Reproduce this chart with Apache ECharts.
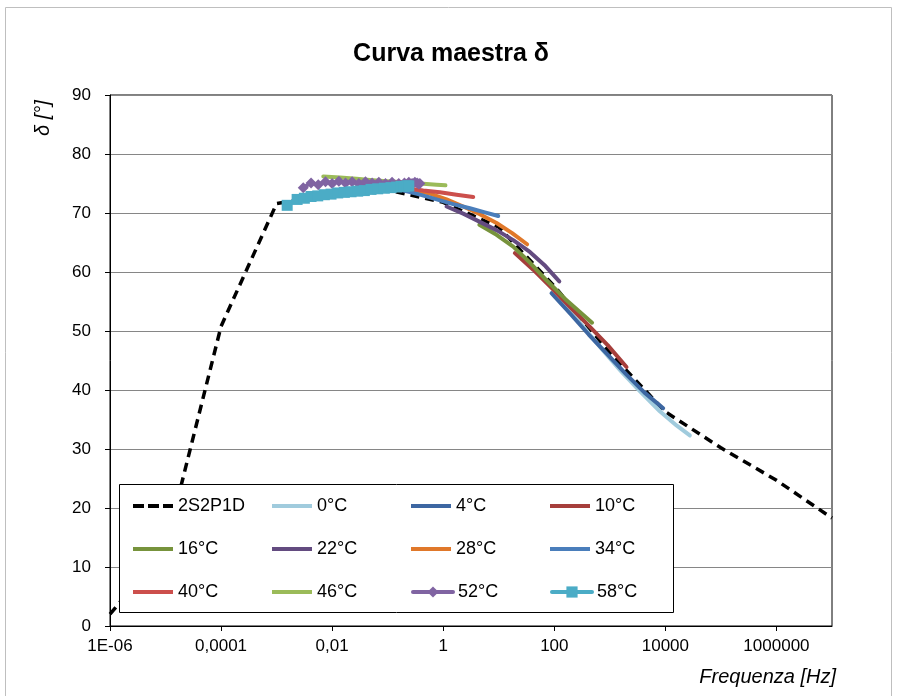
<!DOCTYPE html>
<html>
<head>
<meta charset="utf-8">
<script src="https://cdn.jsdelivr.net/npm/echarts@6/dist/echarts.min.js"></script>
<style>
  html, body { margin: 0; padding: 0; background: #fff; }
  #chart { width: 897px; height: 696px; }
</style>
</head>
<body>
<div id="chart"></div>
<script>
// Master curve (2S2P1D model), one point per decade
const masterFreq = [1e-6, 1e-5, 1e-4, 1e-3, 1e-2, 1e-1, 1, 10, 100, 1000, 1e4, 1e5, 1e6, 1e7];
const masterDelta = [2.0, 13.3, 50.8, 71.6, 73.2, 73.9, 71.8, 67.6, 57.6, 46.3, 36.3, 30.2, 24.7, 18.3];

// Shifted test data, one temperature per series (reduced frequency in Hz, phase angle in degrees)
const f0 = [126, 288, 708, 1585, 3467, 7943, 15850, 27540];
const d0 = [55.2, 51.4, 47.0, 43.2, 39.8, 36.4, 34.0, 32.3];

const f4 = [89.1, 199.5, 416.9, 871, 1995, 4169, 9120];
const d4 = [56.4, 52.8, 49.4, 46.2, 42.6, 39.6, 36.9];

const f10 = [19.5, 41.7, 89.1, 190.5, 416.9, 912, 1995];
const d10 = [63.2, 60.4, 57.3, 54.1, 50.9, 47.6, 43.9];

const f16 = [4.47, 9.12, 18.2, 36.3, 72.4, 158.5, 281.8, 478.6];
const d16 = [68.0, 66.3, 64.3, 61.6, 58.6, 55.4, 53.3, 51.4];

const f22 = [1.148, 2.29, 4.57, 9.12, 18.2, 36.3, 69.2, 123];
const d22 = [71.1, 69.9, 68.5, 67.1, 65.4, 63.4, 61.0, 58.4];

const f28 = [0.282, 0.575, 1.148, 2.29, 4.57, 9.12, 17.4, 32.4];
const d28 = [73.9, 73.3, 72.3, 71.1, 69.8, 68.3, 66.6, 64.7];

const f34 = [0.0891, 0.178, 0.355, 0.759, 1.51, 3.02, 5.62, 9.77];
const d34 = [74.3, 73.9, 73.2, 72.3, 71.5, 70.8, 70.1, 69.5];

const f40 = [0.0282, 0.0562, 0.112, 0.219, 0.437, 0.871, 1.74, 3.47];
const d40 = [74.8, 74.7, 74.5, 74.2, 73.8, 73.5, 73.1, 72.7];

const f46 = [0.00692, 0.0138, 0.0275, 0.0479, 0.0955, 0.191, 0.380, 0.759, 1.096];
const d46 = [76.2, 76.0, 75.8, 75.6, 75.4, 75.2, 75.0, 74.8, 74.7];

const f52 = [0.00302, 0.00417, 0.00562, 0.00759, 0.01, 0.0132, 0.0174, 0.0229, 0.0302, 0.0398, 0.0525,
             0.0692, 0.0912, 0.120, 0.158, 0.200, 0.240, 0.275, 0.309, 0.339, 0.363, 0.380];
const d52 = [74.3, 75.1, 74.8, 75.3, 75.0, 75.4, 75.1, 75.3, 75.0, 75.3, 75.1,
             75.2, 75.0, 75.2, 75.0, 75.1, 75.2, 75.0, 75.2, 75.1, 74.9, 75.0];

const f58 = [0.00155, 0.00234, 0.00316, 0.00417, 0.00550, 0.00724, 0.00955, 0.0126, 0.0166, 0.0219, 0.0288,
             0.0380, 0.0501, 0.0661, 0.0871, 0.115, 0.145, 0.174, 0.200, 0.224, 0.240];
const d58 = [71.3, 72.3, 72.5, 72.8, 72.9, 73.1, 73.2, 73.4, 73.5, 73.6, 73.7,
             73.8, 74.0, 74.1, 74.2, 74.3, 74.4, 74.5, 74.5, 74.6, 74.6];

// Tick labels of the frequency axis, keyed by decade exponent
const xTickLabels = { '-6': '1E-06', '-4': '0,0001', '-2': '0,01', '0': '1', '2': '100', '4': '10000', '6': '1000000' };

const FONT = "'Liberation Sans', Arial, sans-serif";

function zip(xs, ys) { return xs.map((x, i) => [x, ys[i]]); }

function curve(name, xs, ys, color, extra) {
  return Object.assign({
    name: name,
    type: 'line',
    data: zip(xs, ys),
    symbol: 'none',
    smooth: false,
    lineStyle: { color: color, width: 4, cap: 'round', join: 'round' },
    itemStyle: { color: color },
    z: 2
  }, extra || {});
}

const series = [
  {
    name: '2S2P1D',
    type: 'line',
    data: zip(masterFreq, masterDelta),
    symbol: 'none',
    lineStyle: { color: '#000', width: 3.5, type: [9, 6] },
    itemStyle: { color: '#000' },
    z: 2
  },
  curve('0°C', f0, d0, '#A0CBDD'),
  curve('4°C', f4, d4, '#3D67A2'),
  curve('10°C', f10, d10, '#A63E3B'),
  curve('16°C', f16, d16, '#77933C'),
  curve('22°C', f22, d22, '#634B80'),
  curve('28°C', f28, d28, '#E0782A'),
  curve('34°C', f34, d34, '#4A7EBB'),
  curve('40°C', f40, d40, '#CC4F4C'),
  curve('46°C', f46, d46, '#9BBB59'),
  curve('52°C', f52, d52, '#8064A2', { symbol: 'diamond', symbolSize: 11, showSymbol: true }),
  curve('58°C', f58, d58, '#4BACC6', { symbol: 'rect', symbolSize: 11, showSymbol: true })
];

// Legend layout: 3 rows x 4 columns, one legend block per entry
const legendColumns = [133, 272, 411, 550];
const legendRows = [506, 549, 592];
const legendOrder = [
  ['2S2P1D', '0°C', '4°C', '10°C'],
  ['16°C', '22°C', '28°C', '34°C'],
  ['40°C', '46°C', '52°C', '58°C']
];
const markerEntries = { '52°C': true, '58°C': true };
const DASH_ICON = 'path://M0,0h11v4h-11z M15,0h11v4h-11z M30,0h10v4h-10z';
const BAR_ICON = 'path://M0,0h40v4h-40z';

const legends = [];
legendOrder.forEach((row, r) => {
  row.forEach((name, c) => {
    const withMarker = !!markerEntries[name];
    const item = { name: name };
    if (!withMarker) item.icon = name === '2S2P1D' ? DASH_ICON : BAR_ICON;
    legends.push({
      data: [item],
      orient: 'horizontal',
      left: legendColumns[c],
      top: legendRows[r] - 9,
      padding: 0,
      itemWidth: 40,
      itemHeight: withMarker ? 14 : 4,
      symbolKeepAspect: false,
      selectedMode: false,
      z: 20,
      lineStyle: { width: 4 },
      textStyle: { fontSize: 18, color: '#000', fontFamily: FONT, lineHeight: 18 }
    });
  });
});

const chart = echarts.init(document.getElementById('chart'), null, { renderer: 'canvas' });
chart.setOption({
  animation: false,
  backgroundColor: '#fff',
  grid: {
    left: 110, right: 65, top: 95, bottom: 70,
    show: true, borderColor: '#000', borderWidth: 1, backgroundColor: 'transparent'
  },
  xAxis: {
    type: 'log',
    logBase: 10,
    min: 1e-6,
    max: 1e7,
    interval: 2,
    axisLine: { show: true, onZero: false, lineStyle: { color: '#000', width: 1 } },
    axisTick: { show: true, length: 5, lineStyle: { color: '#000' } },
    minorTick: { show: false },
    splitLine: { show: false },
    axisLabel: {
      fontSize: 17, color: '#000', fontFamily: FONT, margin: 12,
      showMaxLabel: false,
      formatter: function (v) {
        const e = Math.round(Math.log10(v));
        return xTickLabels[String(e)] !== undefined ? xTickLabels[String(e)] : '';
      }
    }
  },
  yAxis: {
    type: 'value',
    min: 0,
    max: 90,
    interval: 10,
    axisLine: { show: true, lineStyle: { color: '#000', width: 1 } },
    axisTick: { show: true, length: 5, lineStyle: { color: '#000' } },
    splitLine: { show: true, lineStyle: { color: '#868686', width: 1 } },
    axisLabel: { fontSize: 17, color: '#000', fontFamily: FONT, margin: 19 }
  },
  legend: legends,
  graphic: [
    {
      type: 'rect', z: 0, silent: true,
      shape: { x: 5.5, y: 7.5, width: 886, height: 720 },
      style: { fill: 'none', stroke: '#BFBFBF', lineWidth: 1 }
    },
    {
      type: 'rect', z: 10, silent: true,
      shape: { x: 119.5, y: 484.5, width: 554, height: 128 },
      style: { fill: '#fff', stroke: '#000', lineWidth: 1 }
    },
    {
      type: 'text', z: 10, silent: true,
      x: 451, y: 54,
      style: {
        text: 'Curva maestra δ', fill: '#000',
        font: "bold 25px 'Liberation Sans', Arial, sans-serif",
        align: 'center', verticalAlign: 'middle'
      }
    },
    {
      type: 'text', z: 10, silent: true,
      x: 43, y: 118, rotation: Math.PI / 2,
      style: {
        text: 'δ [°]', fill: '#000',
        font: "italic 20px 'Liberation Sans', Arial, sans-serif",
        align: 'center', verticalAlign: 'middle'
      }
    },
    {
      type: 'text', z: 10, silent: true,
      x: 836, y: 677,
      style: {
        text: 'Frequenza [Hz]', fill: '#000',
        font: "italic 20px 'Liberation Sans', Arial, sans-serif",
        align: 'right', verticalAlign: 'middle'
      }
    }
  ],
  series: series
});
</script>
</body>
</html>
